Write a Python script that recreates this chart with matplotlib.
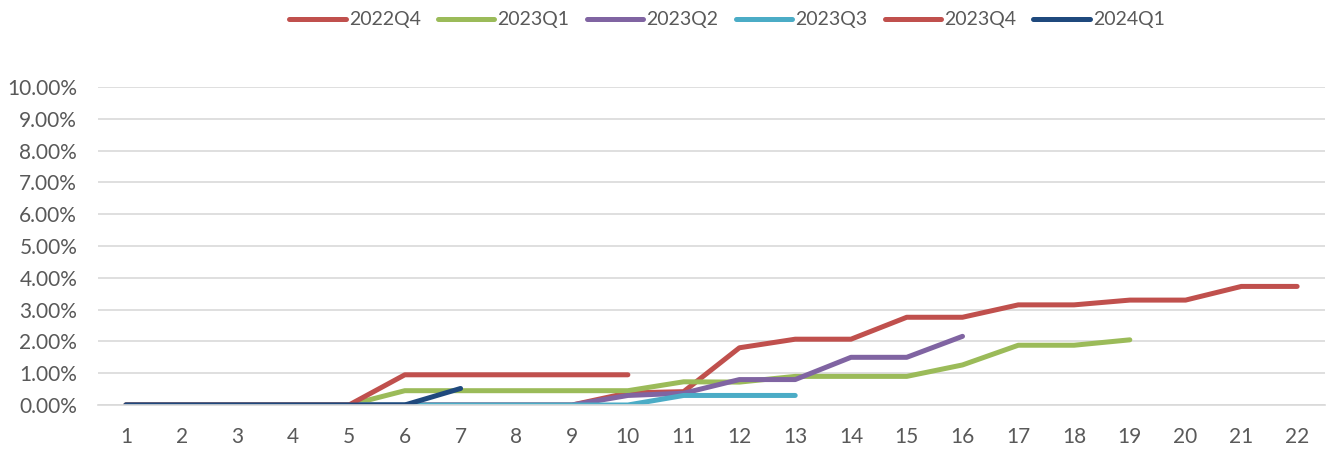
import matplotlib
matplotlib.use("Agg")
import matplotlib.pyplot as plt
from matplotlib.ticker import FuncFormatter

# x positions (periods)
periods = list(range(1, 23))

# cumulative rates in percent
s_2022q4 = [0, 0, 0, 0, 0, 0, 0, 0, 0, 0.38, 0.42, 1.80, 2.07, 2.07, 2.76, 2.76,
            3.15, 3.15, 3.30, 3.30, 3.73, 3.73]
s_2023q1 = [0, 0, 0, 0, 0, 0.45, 0.45, 0.45, 0.45, 0.45, 0.73, 0.72, 0.90, 0.90,
            0.90, 1.26, 1.88, 1.88, 2.05]
s_2023q2 = [0, 0, 0, 0, 0, 0, 0, 0, 0, 0.30, 0.37, 0.80, 0.80, 1.50, 1.50, 2.16]
s_2023q3 = [0, 0, 0, 0, 0, 0, 0, 0, 0, 0, 0.30, 0.30, 0.30]
s_2023q4 = [0, 0, 0, 0, 0, 0.95, 0.95, 0.95, 0.95, 0.95]
s_2024q1 = [0, 0, 0, 0, 0, 0, 0.52]

series = [
    ("2022Q4", s_2022q4, "#C0504D"),
    ("2023Q1", s_2023q1, "#9BBB59"),
    ("2023Q2", s_2023q2, "#8064A2"),
    ("2023Q3", s_2023q3, "#4BACC6"),
    ("2023Q4", s_2023q4, "#C0504D"),
    ("2024Q1", s_2024q1, "#1F497D"),
]

plt.rcParams['font.family'] = ['Lato', 'DejaVu Sans']
grey = "#595959"

fig = plt.figure(figsize=(13.27, 4.49), dpi=100)
ax = fig.add_axes([0.0739, 0.098, 0.9246, 0.708])

for name, vals, col in series:
    ax.plot(periods[:len(vals)], vals, color=col, lw=3.6, label=name,
            solid_capstyle='round', solid_joinstyle='round')

ax.set_xlim(0.5, 22.5)
ax.set_ylim(0, 10)
ax.set_yticks(range(0, 11))
ax.set_xticks(periods)
ax.yaxis.set_major_formatter(FuncFormatter(lambda v, p: "%.2f%%" % v))
ax.grid(axis='y', color="#D9D9D9", lw=1.2)
ax.set_axisbelow(True)
for s in ['top', 'right', 'left']:
    ax.spines[s].set_visible(False)
ax.spines['bottom'].set_color("#D9D9D9")
ax.spines['bottom'].set_linewidth(1.2)
ax.tick_params(length=0, labelsize=15, colors=grey)
ax.tick_params(axis='y', pad=15)
ax.tick_params(axis='x', pad=16)

fig.legend(loc='center', bbox_to_anchor=(727 / 1327, 1 - 20 / 449), ncol=6,
           frameon=False, fontsize=14, handlelength=2.9, columnspacing=0.9,
           handletextpad=0.15, labelcolor=grey)

fig.savefig("out.png", dpi=100)
